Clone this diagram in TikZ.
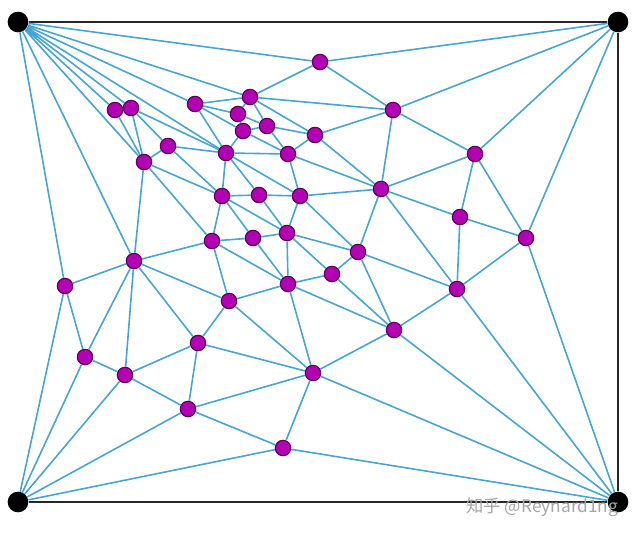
\documentclass[tikz,border=0pt]{standalone}
\usepackage{fontspec}
\newfontfamily\markfont{Noto Sans CJK SC}
\usepackage{tikz}

\definecolor{edgeblue}{RGB}{70,165,210}
\definecolor{ptfill}{RGB}{180,0,180}
\definecolor{ptdraw}{RGB}{95,0,85}

\tikzset{
  pt/.style = {circle, fill = ptfill, draw = ptdraw, line width = 0.9pt, inner sep = 0pt, minimum size = 11.5pt},
  corner/.style = {circle, fill = black, inner sep = 0pt, minimum size = 15.5pt},
  edge/.style = {edgeblue, line width = 1.2pt}
}

\begin{document}
\begin{tikzpicture}[x = 0.75pt, y = -0.75pt]
\useasboundingbox ( 0, 0 ) rectangle ( 640, 535 );

% Corners
\node[corner] (tl) at ( 18, 22 ) {};
\node[corner] (tr) at ( 618, 22 ) {};
\node[corner] (bl) at ( 18, 502 ) {};
\node[corner] (br) at ( 618, 502 ) {};

% Points
\node[pt] (v1) at ( 320, 62 ) {};
\node[pt] (v2) at ( 250, 97 ) {};
\node[pt] (v3) at ( 195, 104 ) {};
\node[pt] (v4) at ( 115, 110 ) {};
\node[pt] (v5) at ( 131, 108 ) {};
\node[pt] (v6) at ( 238, 114 ) {};
\node[pt] (v7) at ( 243, 131 ) {};
\node[pt] (v8) at ( 267, 126 ) {};
\node[pt] (v9) at ( 393, 110 ) {};
\node[pt] (v10) at ( 315, 135 ) {};
\node[pt] (v11) at ( 168, 146 ) {};
\node[pt] (v12) at ( 144, 162 ) {};
\node[pt] (v13) at ( 226, 153 ) {};
\node[pt] (v14) at ( 288, 154 ) {};
\node[pt] (v15) at ( 475, 154 ) {};
\node[pt] (v16) at ( 381, 189 ) {};
\node[pt] (v17) at ( 222, 196 ) {};
\node[pt] (v18) at ( 259, 195 ) {};
\node[pt] (v19) at ( 300, 196 ) {};
\node[pt] (v20) at ( 460, 217 ) {};
\node[pt] (v21) at ( 526, 238 ) {};
\node[pt] (v22) at ( 212, 241 ) {};
\node[pt] (v23) at ( 253, 238 ) {};
\node[pt] (v24) at ( 287, 233 ) {};
\node[pt] (v25) at ( 358, 252 ) {};
\node[pt] (v26) at ( 134, 261 ) {};
\node[pt] (v27) at ( 65, 286 ) {};
\node[pt] (v28) at ( 332, 274 ) {};
\node[pt] (v29) at ( 457, 289 ) {};
\node[pt] (v30) at ( 229, 301 ) {};
\node[pt] (v31) at ( 288, 284 ) {};
\node[pt] (v32) at ( 394, 330 ) {};
\node[pt] (v33) at ( 198, 343 ) {};
\node[pt] (v34) at ( 85, 357 ) {};
\node[pt] (v35) at ( 125, 375 ) {};
\node[pt] (v36) at ( 313, 373 ) {};
\node[pt] (v37) at ( 188, 409 ) {};
\node[pt] (v38) at ( 283, 448 ) {};

% Box
\draw[line width = 2.2pt, black!85] (tl) -- (tr) -- (br) -- (bl) -- cycle;

% Fans from the corners
\draw[edge] (tl) -- (v1) (tl) -- (v2) (tl) -- (v3) (tl) -- (v13) (tl) -- (v5) (tl) -- (v4) (tl) -- (v12) (tl) -- (v26) (tl) -- (v27);
\draw[edge] (tr) -- (v1) (tr) -- (v9) (tr) -- (v15) (tr) -- (v21);
\draw[edge] (bl) -- (v27) (bl) -- (v34) (bl) -- (v35) (bl) -- (v37) (bl) -- (v38);
\draw[edge] (br) -- (v21) (br) -- (v29) (br) -- (v32) (br) -- (v36) (br) -- (v38);

% Inner edges
\draw[edge] (v1) -- (v2) (v1) -- (v9);
\draw[edge] (v2) -- (v3) (v2) -- (v6) (v2) -- (v8) (v2) -- (v10) (v2) -- (v9);
\draw[edge] (v3) -- (v6) (v3) -- (v7) (v3) -- (v13);
\draw[edge] (v6) -- (v7) (v6) -- (v8);
\draw[edge] (v7) -- (v8) (v7) -- (v13) (v7) -- (v14);
\draw[edge] (v8) -- (v14) (v8) -- (v10);
\draw[edge] (v13) -- (v5) (v13) -- (v11) (v13) -- (v14) (v13) -- (v17) (v13) -- (v18) (v13) -- (v19);
\draw[edge] (v4) -- (v5) (v4) -- (v12);
\draw[edge] (v5) -- (v11) (v5) -- (v12);
\draw[edge] (v11) -- (v12) (v11) -- (v17);
\draw[edge] (v12) -- (v17) (v12) -- (v22) (v12) -- (v26);
\draw[edge] (v9) -- (v10) (v9) -- (v16) (v9) -- (v15);
\draw[edge] (v10) -- (v14) (v10) -- (v16);
\draw[edge] (v14) -- (v16) (v14) -- (v19);
\draw[edge] (v15) -- (v16) (v15) -- (v20) (v15) -- (v21);
\draw[edge] (v16) -- (v19) (v16) -- (v25) (v16) -- (v20) (v16) -- (v29);
\draw[edge] (v20) -- (v21) (v20) -- (v29) (v21) -- (v29);
\draw[edge] (v29) -- (v25) (v29) -- (v32);
\draw[edge] (v17) -- (v18) (v17) -- (v22) (v17) -- (v23) (v17) -- (v24);
\draw[edge] (v18) -- (v19) (v18) -- (v24);
\draw[edge] (v19) -- (v24) (v19) -- (v25);
\draw[edge] (v22) -- (v23) (v22) -- (v31) (v22) -- (v30) (v22) -- (v26);
\draw[edge] (v23) -- (v24) (v23) -- (v31);
\draw[edge] (v24) -- (v25) (v24) -- (v28) (v24) -- (v31);
\draw[edge] (v25) -- (v28) (v25) -- (v32);
\draw[edge] (v28) -- (v31) (v28) -- (v32);
\draw[edge] (v31) -- (v30) (v31) -- (v36) (v31) -- (v32);
\draw[edge] (v26) -- (v27) (v26) -- (v34) (v26) -- (v35) (v26) -- (v33) (v26) -- (v30);
\draw[edge] (v27) -- (v34) (v34) -- (v35);
\draw[edge] (v35) -- (v33) (v35) -- (v37);
\draw[edge] (v33) -- (v30) (v33) -- (v37) (v33) -- (v36);
\draw[edge] (v30) -- (v36);
\draw[edge] (v37) -- (v36) (v37) -- (v38);
\draw[edge] (v36) -- (v32) (v36) -- (v38);

% Watermark
\node[text = black!35, font = \markfont\fontsize{13}{13}\selectfont, anchor = east] (mark) at ( 623, 507 ) {知乎 @Reynard1ng};

\end{tikzpicture}
\end{document}
